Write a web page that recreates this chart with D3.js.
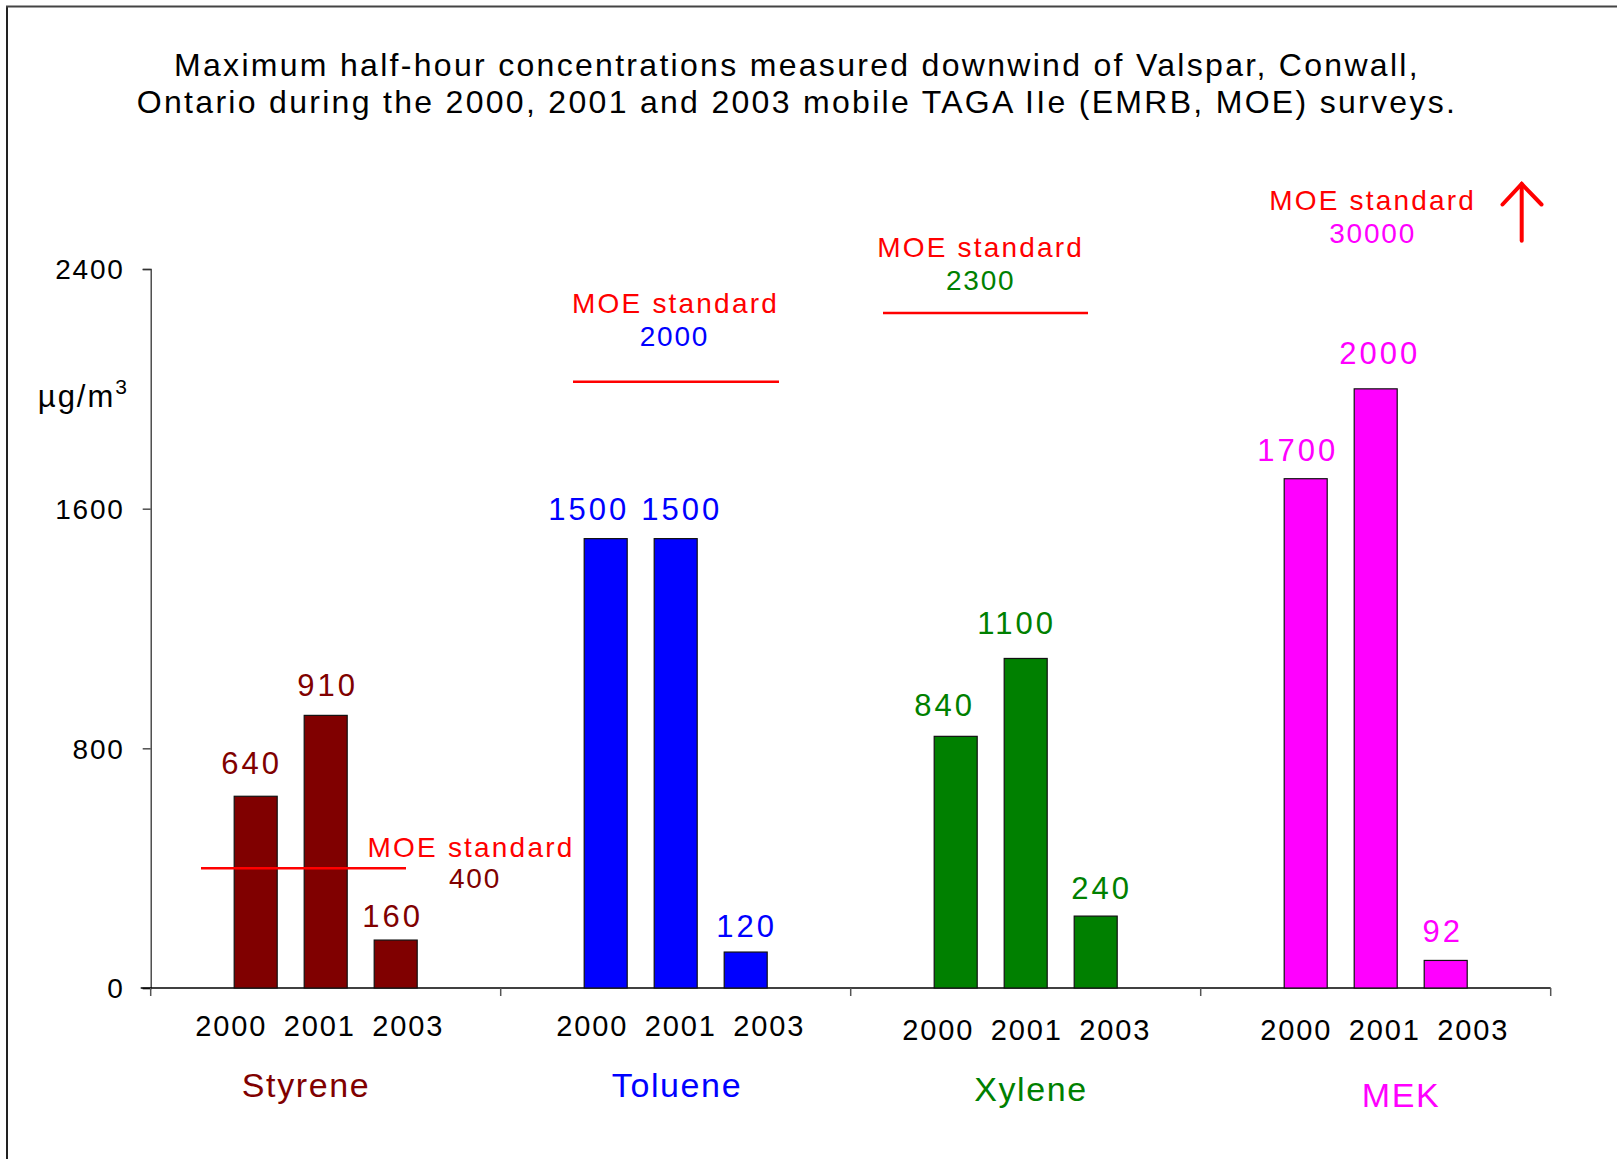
<!DOCTYPE html>
<html>
<head>
<meta charset="utf-8">
<script src="https://cdn.jsdelivr.net/npm/d3@7"></script>
<style>
  html, body { margin: 0; padding: 0; background: #fff; }
  svg { display: block; font-family: "Liberation Sans", Arial, sans-serif; }
</style>
</head>
<body>
<svg id="chart" width="1617" height="1159"></svg>
<script>
// ---- data ----
const titleLines = [
  "Maximum half-hour concentrations measured downwind of Valspar, Conwall,",
  "Ontario during the 2000, 2001 and 2003 mobile TAGA IIe (EMRB, MOE) surveys."
];
const categories = ["Styrene", "Toluene", "Xylene", "MEK"];
const years = ["2000", "2001", "2003"];
const styrene = [640, 910, 160];
const toluene = [1500, 1500, 120];
const xylene  = [840, 1100, 240];
const mek     = [1700, 2000, 92];
const seriesValues = [styrene, toluene, xylene, mek];
const standards = [400, 2000, 2300, 30000];
// level at which each standard line is drawn in the picture (MEK is off-scale -> arrow)
const standardLineLevels = [400, 2024, 2253, null];
const yTicks = [0, 800, 1600, 2400];
const unitLabel = "\u00B5g/m";
const unitSup = "3";
const standardText = "MOE standard";

// ---- styles / layout ----
const colors = ["#800000", "#0000FF", "#008000", "#FF00FF"];
const red = "#FF0000";
const font = "\"Liberation Sans\", Arial, sans-serif";

const svg = d3.select("#chart");
const x0 = 150.7, x1 = 1550.7, yBase = 988, yTop = 269;

const x = d3.scaleBand().domain(categories).range([x0, x1]).padding(0);
const xYear = d3.scalePoint().domain(years).range([-70, 70]);
const y = d3.scaleLinear().domain([0, 2400]).range([yBase, yTop]);
const barW = 43;

// frame (left & top lines)
svg.append("line").attr("x1", 7).attr("y1", 6).attr("x2", 7).attr("y2", 1159)
  .attr("stroke", "#222").attr("stroke-width", 2);
svg.append("line").attr("x1", 6).attr("y1", 6.5).attr("x2", 1617).attr("y2", 6.5)
  .attr("stroke", "#444").attr("stroke-width", 2);

// title
svg.append("g").selectAll("text").data(titleLines).join("text")
  .attr("x", 797).attr("y", (d, i) => 65 + i * 37)
  .attr("text-anchor", "middle").attr("dominant-baseline", "central")
  .attr("font-size", 32).attr("letter-spacing", 2.3).attr("fill", "#000")
  .text(d => d);

// y axis
const yAxis = d3.axisLeft(y).tickValues(yTicks).tickSize(8).tickPadding(18)
  .tickFormat(d3.format("d"));
const gy = svg.append("g").attr("transform", `translate(${x0},0)`).call(yAxis);
gy.select(".domain").attr("stroke", "#333").attr("stroke-width", 1.3);
gy.selectAll(".tick line").attr("stroke", "#333").attr("stroke-width", 1.3);
gy.selectAll(".tick text").attr("font-size", 28).attr("font-family", font)
  .attr("letter-spacing", 1.8).attr("fill", "#000").attr("dy", "0.35em");

// x axis (category boundaries as ticks)
const boundaries = categories.map(c => x(c)).concat([x1]);
const gx = svg.append("g");
gx.append("line").attr("x1", x0 - 10).attr("x2", x1).attr("y1", yBase).attr("y2", yBase)
  .attr("stroke", "#000").attr("stroke-width", 1.5);
gx.selectAll("line.tk").data(boundaries).join("line").attr("class", "tk")
  .attr("x1", d => d).attr("x2", d => d).attr("y1", yBase).attr("y2", yBase + 8)
  .attr("stroke", "#555").attr("stroke-width", 1.5);

// unit label
const unit = svg.append("text").attr("x", 129).attr("y", 407)
  .attr("text-anchor", "end").attr("font-size", 31).attr("letter-spacing", 2).attr("fill", "#000");
unit.append("tspan").text(unitLabel);
unit.append("tspan").attr("font-size", 21).attr("dy", -13).text(unitSup);

// bars
const flat = [];
categories.forEach((c, ci) => years.forEach((yr, yi) => {
  flat.push({ cat: c, ci, yi, year: yr, value: seriesValues[ci][yi] });
}));
const barCenter = d => x(d.cat) + x.bandwidth() / 2 + xYear(d.year);

svg.append("g").selectAll("rect").data(flat).join("rect")
  .attr("x", d => barCenter(d) - barW / 2)
  .attr("y", d => y(d.value))
  .attr("width", barW)
  .attr("height", d => yBase - y(d.value))
  .attr("fill", d => colors[d.ci])
  .attr("stroke", "#111").attr("stroke-width", 1.2);

// value labels
const labelDx = [[-4, 2, -3], [-17, 6, 1], [-11, -9, 6], [-8, 4, -3]];
const labelDy = [[-33, -30, -24], [-29, -29, -26], [-31, -35, -28], [-28, -35, -29]];
svg.append("g").selectAll("text").data(flat).join("text")
  .attr("x", d => barCenter(d) + labelDx[d.ci][d.yi])
  .attr("y", d => y(d.value) + labelDy[d.ci][d.yi])
  .attr("text-anchor", "middle").attr("dominant-baseline", "central")
  .attr("font-size", 31).attr("letter-spacing", 3).attr("fill", d => colors[d.ci])
  .text(d => d.value);

// year labels
const yearShift = [-6, 5, 1, 9];
const yearY = [1026, 1026, 1030, 1030];
const yearPitch = 88.5;
svg.append("g").selectAll("text").data(flat).join("text")
  .attr("x", d => x(d.cat) + x.bandwidth() / 2 + yearShift[d.ci] + (d.yi - 1) * yearPitch)
  .attr("y", d => yearY[d.ci])
  .attr("text-anchor", "middle").attr("dominant-baseline", "central")
  .attr("font-size", 29).attr("letter-spacing", 1.9).attr("fill", "#000")
  .text(d => d.year);

// category labels
const catPos = [[306, 1085], [677, 1085], [1031, 1089], [1401, 1095]];
svg.append("g").selectAll("text").data(categories).join("text")
  .attr("x", (d, i) => catPos[i][0]).attr("y", (d, i) => catPos[i][1])
  .attr("text-anchor", "middle").attr("dominant-baseline", "central")
  .attr("font-size", 34).attr("letter-spacing", 1.6).attr("fill", (d, i) => colors[i])
  .text(d => d);

// standard lines
const lineSpan = [[201, 406], [573, 779], [883, 1088]];
standardLineLevels.forEach((lvl, i) => {
  if (lvl == null) return;
  svg.append("line")
    .attr("x1", lineSpan[i][0]).attr("x2", lineSpan[i][1])
    .attr("y1", y(lvl)).attr("y2", y(lvl))
    .attr("stroke", red).attr("stroke-width", 2.5);
});

// standard labels
const stdPos = [[471, 847, 475, 878.6], [675.5, 303, 674.4, 336], [980.7, 247.5, 980.7, 280.5], [1372.6, 200, 1372.6, 233]];
standards.forEach((s, i) => {
  const p = stdPos[i];
  svg.append("text").attr("x", p[0]).attr("y", p[1])
    .attr("text-anchor", "middle").attr("dominant-baseline", "central")
    .attr("font-size", 28).attr("letter-spacing", 2.2).attr("fill", red)
    .text(standardText);
  svg.append("text").attr("x", p[2]).attr("y", p[3])
    .attr("text-anchor", "middle").attr("dominant-baseline", "central")
    .attr("font-size", 28).attr("letter-spacing", 1.8).attr("fill", colors[i])
    .text(s);
});

// off-scale arrow for MEK standard
const arrow = svg.append("g").attr("stroke", red).attr("stroke-width", 4).attr("fill", "none")
  .attr("stroke-linecap", "round");
arrow.append("line").attr("x1", 1521.7).attr("x2", 1521.7).attr("y1", 240.7).attr("y2", 184);
arrow.append("polyline").attr("points", "1502.5,204.5 1521.7,184 1541.5,204.5");
</script>
</body>
</html>
